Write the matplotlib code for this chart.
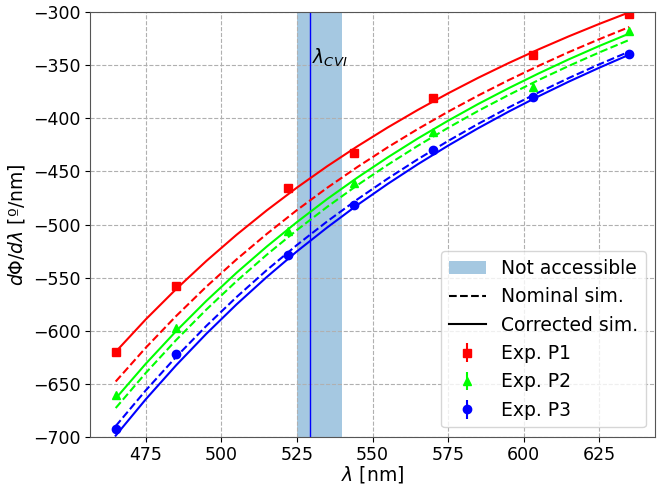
import matplotlib.pyplot as plt
from matplotlib.patches import Patch
from matplotlib.lines import Line2D

# experimental wavelengths and measured dispersion
lam_exp = [465, 485, 522, 544, 570, 603, 635]
exp_p1 = [-620, -558, -466, -433, -381, -340, -302]
exp_p2 = [-661, -598, -506, -461, -413, -370, -318]
exp_p3 = [-693, -622, -529, -482, -430, -380, -339]
err_exp = [2, 2, 2, 2, 2, 2, 2]

# simulated curves
lam_sim = [465, 475, 485, 495, 505, 515, 525, 535, 545,
           555, 565, 575, 585, 595, 605, 615, 625, 635]
corr_p1 = [-620.0, -589.3, -560.9, -534.4, -509.7, -486.7, -465.2, -445.1, -426.3,
           -408.6, -392.0, -376.4, -361.7, -347.9, -334.9, -322.6, -311.0, -300.0]
nom_p1 = [-648.0, -616.0, -586.3, -558.6, -532.9, -508.9, -486.4, -465.4, -445.8,
          -427.3, -410.0, -393.7, -378.4, -364.0, -350.4, -337.5, -325.4, -313.9]
corr_p2 = [-664.0, -631.1, -600.5, -572.0, -545.5, -520.8, -497.7, -476.0, -455.8,
           -436.8, -418.9, -402.2, -386.4, -371.6, -357.6, -344.3, -331.8, -320.0]
nom_p2 = [-673.0, -639.8, -608.9, -580.2, -553.4, -528.5, -505.2, -483.4, -462.9,
          -443.8, -425.8, -408.9, -392.9, -378.0, -363.8, -350.5, -337.9, -326.0]
corr_p3 = [-699.0, -664.6, -632.7, -603.0, -575.3, -549.5, -525.3, -502.8, -481.6,
           -461.8, -443.2, -425.7, -409.2, -393.7, -379.1, -365.3, -352.3, -339.9]
nom_p3 = [-690.0, -656.2, -624.8, -595.6, -568.4, -543.0, -519.3, -497.1, -476.3,
          -456.8, -438.5, -421.3, -405.1, -389.8, -375.5, -361.9, -349.1, -337.0]

gap = (525, 540)
lam_cvi = 529.2

plt.rcParams.update({'font.size': 12.5})
fig = plt.figure(figsize=(6.58, 4.88), dpi=100)
ax = fig.add_axes([90/658, 51.3/488, 565/658, 424.4/488])

ax.axvspan(gap[0], gap[1], color='C0', alpha=0.4, lw=0)
ax.axvline(lam_cvi, color='b', lw=1)
ax.text(lam_cvi + 0.8, -343, r'$\lambda_{CVI}$', va='center', ha='left', fontsize=13.5)

ax.plot(lam_sim, corr_p1, color='r', lw=1.5)
ax.plot(lam_sim, nom_p1, color='r', lw=1.5, ls='--')
ax.plot(lam_sim, corr_p2, color='lime', lw=1.5)
ax.plot(lam_sim, nom_p2, color='lime', lw=1.5, ls='--')
ax.plot(lam_sim, corr_p3, color='b', lw=1.5)
ax.plot(lam_sim, nom_p3, color='b', lw=1.5, ls='--')

e1 = ax.errorbar(lam_exp, exp_p1, yerr=err_exp, fmt='s', color='r', ms=6)
e2 = ax.errorbar(lam_exp, exp_p2, yerr=err_exp, fmt='^', color='lime', ms=6)
e3 = ax.errorbar(lam_exp, exp_p3, yerr=err_exp, fmt='o', color='b', ms=6)

ax.set_ylim(-700, -300)
ax.set_xlim(456.5, 643.5)
ax.set_xticks([475, 500, 525, 550, 575, 600, 625])
ax.tick_params(axis='x', pad=3)
ax.set_xlabel(r'$\lambda$ [nm]', fontsize=13.5, labelpad=0)
ax.set_ylabel(r'$d\Phi/d\lambda$ [º/nm]', fontsize=13.5)
ax.grid(True, linestyle='--', color='#b0b0b0')
for s in ax.spines.values():
    s.set_color('#555555')

handles = [Patch(color='C0', alpha=0.4, lw=0),
           Line2D([], [], color='k', ls='--', lw=1.5),
           Line2D([], [], color='k', lw=1.5),
           e1, e2, e3]
labels = ['Not accessible', 'Nominal sim.', 'Corrected sim.',
          'Exp. P1', 'Exp. P2', 'Exp. P3']
ax.legend(handles, labels, loc='lower right', fontsize=13.5)

plt.savefig('out.png', dpi=100)
